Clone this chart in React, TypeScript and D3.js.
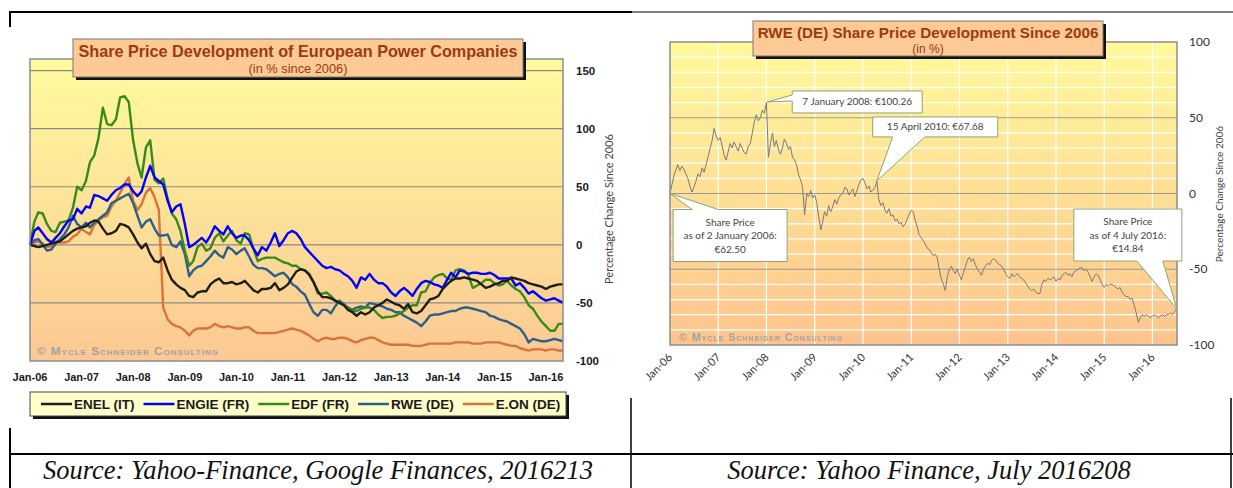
import * as d3 from 'd3';
import { useEffect, useRef } from 'react';

// ---- left chart: monthly % change since Jan 2006 (Jan-06 .. May-16) ----
const enel = [
  0, -1, -2, -1, 0, 1, 2, 3, 6, 9,
  12, 14, 15, 16, 19, 21, 20, 14, 9, 10,
  12, 18, 17, 15, 9, 2, -3, 1, -8, -14,
  -15, -11, -22, -30, -34, -37, -39, -44, -45, -41,
  -40, -40, -34, -31, -29, -33, -33, -32, -34, -33,
  -31, -35, -39, -41, -38, -38, -37, -33, -39, -37,
  -34, -28, -23, -21, -22, -26, -32, -40, -45, -45,
  -46, -48, -50, -52, -56, -58, -61, -58, -60, -58,
  -54, -52, -50, -47, -49, -51, -52, -55, -51, -58,
  -59, -57, -52, -47, -46, -44, -38, -34, -31, -29,
  -29, -28, -29, -30, -31, -34, -37, -36, -34, -33,
  -31, -31, -28, -29, -30, -31, -33, -34, -35, -36,
  -38, -36, -35, -34, -34,
];
const engie = [
  0, 12, 15, 10, 5, 2, 6, 10, 16, 21,
  22, 31, 27, 33, 32, 43, 42, 40, 38, 43,
  47, 49, 52, 52, 46, 42, 46, 58, 68, 58,
  55, 52, 38, 28, 33, 35, 18, -2, 0, 3,
  6, 2, 8, 16, 12, 9, 16, 10, 6, 8,
  8, 4, -3, -9, -2, -5, 2, 10, -1, 4,
  10, 12, 10, 5, -2, -6, -10, -14, -18, -20,
  -19, -21, -22, -25, -27, -31, -37, -28, -30, -25,
  -30, -33, -33, -36, -41, -44, -40, -37, -40, -44,
  -38, -33, -31, -32, -34, -35, -37, -30, -24, -28,
  -22, -23, -25, -24, -24, -25, -25, -24, -26, -29,
  -29, -29, -29, -35, -33, -37, -42, -40, -43, -46,
  -48, -47, -46, -48, -50,
];
const edf = [
  0, 20, 28, 27, 18, 12, 11, 19, 20, 21,
  32, 50, 47, 55, 71, 77, 92, 118, 104, 103,
  108, 127, 128, 123, 90, 70, 58, 84, 90, 56,
  53, 57, 40, 27, 22, 12, -5, -18, -14, -2,
  1, -5, -3, 6, 10, 3, 8, 12, 4, 1,
  10, 9, -3, -14, -12, -11, -11, -11, -13, -15,
  -16, -18, -18, -21, -22, -25, -32, -42, -42, -41,
  -44, -48, -50, -52, -54, -57, -57, -55, -54, -54,
  -56, -60, -63, -62, -62, -61, -59, -57, -54, -52,
  -52, -41, -40, -33, -28, -26, -25, -29, -30, -22,
  -21, -22, -26, -37, -35, -33, -30, -30, -33, -35,
  -34, -31, -35, -38, -40, -45, -52, -55, -61, -66,
  -70, -74, -74, -68, -68,
];
const rwe = [
  0, 4, 5, 0, -5, -4, 1, 5, 9, 15,
  25, 18, 15, 19, 15, 19, 22, 25, 28, 36,
  38, 40, 42, 44, 36, 25, 15, 20, 22, 14,
  8, 8, 9, 0, -2, 3, -8, -27, -22, -19,
  -18, -14, -10, -5, -9, -11, -2, -4, -8, -5,
  -3, -10, -17, -20, -20, -21, -24, -27, -25, -24,
  -28, -34, -36, -40, -43, -51, -58, -61, -56, -56,
  -59, -53, -48, -51, -54, -56, -54, -53, -54, -50,
  -51, -52, -53, -55, -56, -58, -58, -61, -63, -65,
  -67, -70, -66, -61, -60, -60, -59, -58, -57, -57,
  -55, -54, -54, -55, -56, -57, -58, -61, -62, -64,
  -65, -66, -68, -70, -72, -77, -84, -81, -82, -83,
  -83, -82, -81, -82, -83,
];
const eon = [
  0, 2, 3, 1, -2, -1, 3, 2, 2, 3,
  7, 9, 14, 11, 9, 17, 21, 24, 25, 33,
  38, 45, 52, 58, 38, 30, 35, 45, 49, 41,
  30, -54, -64, -68, -70, -71, -74, -78, -74, -72,
  -72, -72, -71, -68, -70, -71, -70, -71, -72, -72,
  -71, -71, -74, -76, -76, -76, -76, -76, -75, -74,
  -73, -72, -73, -74, -76, -78, -81, -83, -81, -80,
  -81, -81, -80, -80, -81, -83, -84, -82, -81, -80,
  -80, -82, -84, -85, -86, -86, -86, -86, -86, -87,
  -87, -87, -86, -85, -85, -85, -85, -85, -85, -84,
  -84, -84, -84, -85, -85, -85, -84, -84, -84, -84,
  -85, -86, -87, -87, -89, -90, -91, -90, -90, -90,
  -91, -90, -90, -91, -91,
];
const seriesNames = ['ENEL (IT)', 'ENGIE (FR)', 'EDF (FR)', 'RWE (DE)', 'E.ON (DE)'];
const seriesColors = ['#1e1e1e', '#0000ff', '#3a8a1a', '#2c5f8a', '#d8743a'];
const leftYTicks = [150, 100, 50, 0, -50, -100];
const leftGrid = [150, 100, 50, 0, -50];
const yearLabels = ['Jan-06', 'Jan-07', 'Jan-08', 'Jan-09', 'Jan-10', 'Jan-11', 'Jan-12', 'Jan-13', 'Jan-14', 'Jan-15', 'Jan-16'];

// ---- right chart: RWE twice a month (1st and 16th), % change since 2 Jan 2006 ----
const rweHalfMonth = [
  0, 6, 12, 16, 19, 15, 18, 16, 13, 10, 5, 1, 4, 8, 13, 11, 17, 14, 19, 24, 30, 35, 43, 38,
  35, 37, 31, 25, 22, 27, 33, 30, 34, 31, 28, 33, 30, 27, 26, 31, 33, 40, 47, 52, 48, 50, 55, 53,
  60, 24, 33, 40, 31, 35, 29, 26, 30, 36, 33, 29, 31, 24, 22, 19, 12, 9, 4, -14, 0, -2, 2, -3,
  -1, -6, -16, -24, -19, -12, -15, -8, -12, -9, -4, -7, -3, -1, 0, 4, 3, -1, 1, 3, -2, 2, 6, 9,
  10, 7, 3, 5, 1, 2, 4, 8, -4, -8, -6, -11, -13, -10, -15, -14, -18, -17, -20, -19, -22, -20, -17, -14,
  -11, -12, -18, -22, -27, -29, -31, -33, -36, -37, -39, -41, -40, -42, -50, -56, -60, -64, -55, -50, -48, -51, -53, -50,
  -54, -57, -52, -48, -44, -42, -45, -43, -47, -50, -52, -54, -50, -48, -46, -47, -44, -43, -44, -46, -47, -48, -50, -53,
  -55, -56, -53, -55, -54, -53, -55, -56, -57, -59, -61, -63, -64, -63, -65, -66, -66, -60, -57, -58, -56, -57, -56, -55,
  -58, -56, -57, -54, -53, -52, -54, -53, -55, -52, -51, -50, -49, -49, -51, -50, -52, -55, -58, -55, -53, -54, -57, -60,
  -62, -60, -61, -60, -60, -61, -62, -63, -62, -65, -67, -68, -68, -70, -69, -74, -79, -85, -82, -80, -81, -80, -81, -82,
  -81, -80, -81, -82, -81, -80, -81, -80, -80, -79, -80, -78, -76,
];
const rightYTicks = [100, 50, 0, -50, -100];
const rightMajor = [50, 0, -50];
const calloutDates = [new Date(2008, 0, 7), new Date(2010, 3, 15), new Date(2006, 0, 2), new Date(2016, 6, 4)];
const calloutPrices = [100.26, 67.68, 62.5, 14.84];
const calloutText = [
  ['7 January 2008: €100.26'],
  ['15 April 2010: €67.68'],
  ['Share Price', 'as of 2 January 2006:', '€62.50'],
  ['Share Price', 'as of 4 July 2016:', '€14.84'],
];
const basePrice = 62.5;

const ARIAL = '"Liberation Sans", Arial, sans-serif';
const CALIBRI = 'Lato, "Open Sans", sans-serif';
const SERIF = '"Liberation Serif", "Times New Roman", serif';
const TITLE_RED = '#9c3a10';

function App() {
  const ref = useRef<SVGSVGElement>(null);

  useEffect(() => {
    const svg = d3.select(ref.current);
    svg.selectAll('*').remove();

    const defs = svg.append('defs');
    const grad = (id: string, top: string, bottom: string) => {
      const g = defs.append('linearGradient').attr('id', id).attr('x1', 0).attr('y1', 0).attr('x2', 0).attr('y2', 1);
      g.append('stop').attr('offset', '0%').attr('stop-color', top);
      g.append('stop').attr('offset', '100%').attr('stop-color', bottom);
    };
    grad('bgLeft', '#fffb9e', '#fcc893');
    grad('bgRight', '#fffa9c', '#fdc48d');

    // ---------- LEFT CHART ----------
    const months = d3.range(enel.length).map(i => new Date(2006, i, 1));
    const lx = d3.scaleTime().domain([new Date(2006, 0, 1), new Date(2016, 4, 1)]).range([30, 563]);
    const ly = d3.scaleLinear().domain([-100, 160]).range([361, 59]);
    const left = svg.append('g');

    left.append('rect')
      .attr('x', 30).attr('y', 59).attr('width', 533).attr('height', 302)
      .attr('fill', 'url(#bgLeft)');

    left.selectAll('.lgrid').data(leftGrid).join('line')
      .attr('x1', 30).attr('x2', 563)
      .attr('y1', d => ly(d)).attr('y2', d => ly(d))
      .attr('stroke', '#8a8a8a').attr('stroke-width', 1.2);

    left.append('text')
      .attr('x', 37).attr('y', 355)
      .attr('font-family', ARIAL).attr('font-weight', 'bold').attr('font-size', 11.7)
      .attr('font-variant', 'small-caps').attr('letter-spacing', 1)
      .attr('fill', '#a3a3a3')
      .text('© Mycle Schneider Consulting');

    const allSeries = [enel, engie, edf, rwe, eon];
    const drawOrder = [4, 3, 2, 1, 0];
    const line = d3.line<number>()
      .x((_, i) => lx(months[i]))
      .y(d => ly(d));
    drawOrder.forEach(k => {
      left.append('path')
        .attr('d', line(allSeries[k]))
        .attr('fill', 'none')
        .attr('stroke', seriesColors[k])
        .attr('stroke-width', 2.4)
        .attr('stroke-linejoin', 'round');
    });

    left.append('rect')
      .attr('x', 30).attr('y', 59).attr('width', 533).attr('height', 302)
      .attr('fill', 'none').attr('stroke', '#8c8c8c').attr('stroke-width', 1.5);

    left.selectAll('.ly').data(leftYTicks).join('text')
      .attr('x', 576).attr('y', d => ly(d) + 4)
      .attr('font-family', ARIAL).attr('font-weight', 'bold').attr('font-size', 11.5)
      .attr('fill', '#1a1a1a')
      .text(d => String(d));

    left.append('text')
      .attr('transform', 'translate(613,209) rotate(-90)')
      .attr('text-anchor', 'middle')
      .attr('font-family', CALIBRI).attr('font-size', 11)
      .attr('fill', '#444')
      .text('Percentage Change Since 2006');

    left.selectAll('.lx').data(yearLabels).join('text')
      .attr('x', (_, i) => lx(new Date(2006 + i, 0, 1)))
      .attr('y', 381)
      .attr('text-anchor', 'middle')
      .attr('font-family', ARIAL).attr('font-weight', 'bold').attr('font-size', 11)
      .attr('fill', '#1a1a1a')
      .text(d => d);

    // title box
    left.append('rect').attr('x', 76).attr('y', 42).attr('width', 450).attr('height', 38).attr('fill', '#111');
    left.append('rect').attr('x', 73).attr('y', 39).attr('width', 450).attr('height', 38)
      .attr('fill', '#fdc995').attr('stroke', '#7a7a7a').attr('stroke-width', 1);
    left.append('text').attr('x', 298).attr('y', 57).attr('text-anchor', 'middle')
      .attr('font-family', ARIAL).attr('font-weight', 'bold').attr('font-size', 16.2)
      .attr('fill', TITLE_RED)
      .text('Share Price Development of European Power Companies');
    left.append('text').attr('x', 298).attr('y', 72.5).attr('text-anchor', 'middle')
      .attr('font-family', ARIAL).attr('font-size', 12.8)
      .attr('fill', TITLE_RED)
      .text('(in % since 2006)');

    // legend
    left.append('rect').attr('x', 33).attr('y', 395).attr('width', 536).attr('height', 24).attr('fill', '#111');
    left.append('rect').attr('x', 30).attr('y', 392).attr('width', 536).attr('height', 24)
      .attr('fill', '#ffffcc').attr('stroke', '#444').attr('stroke-width', 1);
    let lxPos = 41;
    seriesNames.forEach((name, k) => {
      left.append('line')
        .attr('x1', lxPos).attr('x2', lxPos + 31).attr('y1', 404).attr('y2', 404)
        .attr('stroke', seriesColors[k]).attr('stroke-width', 2.5);
      const t = left.append('text')
        .attr('x', lxPos + 33).attr('y', 409)
        .attr('font-family', ARIAL).attr('font-weight', 'bold').attr('font-size', 13.5)
        .attr('fill', '#1a1a1a')
        .text(name);
      const w = (t.node() as SVGTextElement).getComputedTextLength();
      lxPos += 33 + w + 9;
    });

    // ---------- RIGHT CHART ----------
    const halfDates = d3.range(rweHalfMonth.length).map(h => new Date(2006 + Math.floor(h / 24), Math.floor((h % 24) / 2), h % 2 ? 16 : 1));
    const rx = d3.scaleTime().domain([new Date(2006, 0, 1), new Date(2016, 6, 5)]).range([670, 1177]);
    const ry = d3.scaleLinear().domain([-100, 100]).range([345, 42]);
    const right = svg.append('g');

    right.append('rect')
      .attr('x', 670).attr('y', 42).attr('width', 507).attr('height', 303)
      .attr('fill', 'url(#bgRight)');

    right.selectAll('.rminor').data(ry.ticks(20).filter(v => v % 50 !== 0)).join('line')
      .attr('x1', 670).attr('x2', 1177)
      .attr('y1', d => ry(d)).attr('y2', d => ry(d))
      .attr('stroke', '#ffffff').attr('stroke-width', 1.2);

    const yearTicks = d3.range(11).map(i => new Date(2006 + i, 0, 1));
    right.selectAll('.rvert').data(yearTicks.slice(1)).join('line')
      .attr('x1', d => rx(d)).attr('x2', d => rx(d))
      .attr('y1', 42).attr('y2', 345)
      .attr('stroke', '#ffffff').attr('stroke-width', 1.2);

    right.selectAll('.rmajor').data(rightMajor).join('line')
      .attr('x1', 670).attr('x2', 1177)
      .attr('y1', d => ry(d)).attr('y2', d => ry(d))
      .attr('stroke', '#9a9a9a').attr('stroke-width', 1.2);

    right.append('text')
      .attr('x', 679).attr('y', 341)
      .attr('font-family', ARIAL).attr('font-weight', 'bold').attr('font-size', 10.6)
      .attr('font-variant', 'small-caps').attr('letter-spacing', 1)
      .attr('fill', '#a3a3a3')
      .text('© Mycle Schneider Consulting');

    const rline = d3.line<number>()
      .x((_, i) => rx(halfDates[i]))
      .y(d => ry(d));
    right.append('path')
      .attr('d', rline(rweHalfMonth))
      .attr('fill', 'none')
      .attr('stroke', '#7a7a7a')
      .attr('stroke-width', 1);

    right.append('rect')
      .attr('x', 670).attr('y', 42).attr('width', 507).attr('height', 303)
      .attr('fill', 'none').attr('stroke', '#8c8c8c').attr('stroke-width', 1.5);

    right.selectAll('.ry').data(rightYTicks).join('text')
      .attr('x', 1189).attr('y', d => ry(d) + 4)
      .attr('font-family', CALIBRI).attr('font-size', 12)
      .attr('fill', '#333')
      .text(d => String(d));

    right.append('text')
      .attr('transform', 'translate(1223,194) rotate(-90)')
      .attr('text-anchor', 'middle')
      .attr('font-family', CALIBRI).attr('font-size', 10)
      .attr('fill', '#444')
      .text('Percentage Change Since 2006');

    right.selectAll('.rx').data(yearLabels).join('text')
      .attr('transform', (_, i) => `translate(${rx(yearTicks[i]) + 3},358) rotate(-45)`)
      .attr('text-anchor', 'end')
      .attr('font-family', CALIBRI).attr('font-size', 11)
      .attr('fill', '#333')
      .text(d => d);

    // callouts
    const layout = [
      { dx: 25, dy: -11, w: 130, h: 22, side: 'left', b0: 4, b1: 10 },
      { dx: -4, dy: -64, w: 125, h: 20, side: 'bottom', b0: 20, b1: 52 },
      { dx: 3, dy: 16, w: 114, h: 52, side: 'top', b0: 19, b1: 45 },
      { dx: -103, dy: -100, w: 108, h: 52, side: 'bottom', b0: 63, b1: 89 },
    ];
    calloutDates.forEach((date, k) => {
      const tx = rx(date);
      const ty = ry((calloutPrices[k] / basePrice - 1) * 100);
      const L = layout[k];
      const bx = tx + L.dx;
      const by = ty + L.dy;
      let p = '';
      if (L.side === 'left') {
        p = `M${bx},${by}H${bx + L.w}V${by + L.h}H${bx}V${by + L.b1}L${tx},${ty}L${bx},${by + L.b0}Z`;
      } else if (L.side === 'bottom') {
        p = `M${bx},${by}H${bx + L.w}V${by + L.h}H${bx + L.b1}L${tx},${ty}L${bx + L.b0},${by + L.h}H${bx}Z`;
      } else {
        p = `M${bx},${by}H${bx + L.b0}L${tx},${ty}L${bx + L.b1},${by}H${bx + L.w}V${by + L.h}H${bx}Z`;
      }
      right.append('path').attr('d', p)
        .attr('fill', '#ffffff').attr('stroke', '#8ea374').attr('stroke-width', 1);
      const lines = calloutText[k];
      const lh = 13.5;
      const startY = by + L.h / 2 - ((lines.length - 1) * lh) / 2 + 3.5;
      lines.forEach((s, j) => {
        right.append('text')
          .attr('x', bx + L.w / 2).attr('y', startY + j * lh)
          .attr('text-anchor', 'middle')
          .attr('font-family', CALIBRI).attr('font-size', 10)
          .attr('fill', '#444')
          .text(s);
      });
    });

    // title box
    right.append('rect').attr('x', 756).attr('y', 24).attr('width', 350).attr('height', 35).attr('fill', '#111');
    right.append('rect').attr('x', 753).attr('y', 21).attr('width', 350).attr('height', 35)
      .attr('fill', '#fdc995').attr('stroke', '#7a7a7a').attr('stroke-width', 1);
    right.append('text').attr('x', 928).attr('y', 38).attr('text-anchor', 'middle')
      .attr('font-family', ARIAL).attr('font-weight', 'bold').attr('font-size', 15.2)
      .attr('fill', TITLE_RED)
      .text('RWE (DE) Share Price Development Since 2006');
    right.append('text').attr('x', 928).attr('y', 52.5).attr('text-anchor', 'middle')
      .attr('font-family', ARIAL).attr('font-size', 12)
      .attr('fill', TITLE_RED)
      .text('(in %)');

    // ---------- TABLE FRAME ----------
    const frame = svg.append('g').attr('stroke', '#000');
    frame.append('line').attr('x1', 9).attr('x2', 632).attr('y1', 12).attr('y2', 12).attr('stroke-width', 2);
    frame.append('line').attr('x1', 632).attr('x2', 1233).attr('y1', 12).attr('y2', 12).attr('stroke-width', 1.2);
    frame.append('line').attr('x1', 10).attr('x2', 10).attr('y1', 11).attr('y2', 27).attr('stroke-width', 2);
    frame.append('line').attr('x1', 10).attr('x2', 10).attr('y1', 428).attr('y2', 488).attr('stroke-width', 2);
    frame.append('line').attr('x1', 631).attr('x2', 631).attr('y1', 398).attr('y2', 488).attr('stroke-width', 1.5);
    frame.append('line').attr('x1', 1231).attr('x2', 1231).attr('y1', 398).attr('y2', 488).attr('stroke-width', 1.5);
    frame.append('line').attr('x1', 9).attr('x2', 1233).attr('y1', 454).attr('y2', 454).attr('stroke-width', 2);

    svg.append('text').attr('x', 318).attr('y', 479).attr('text-anchor', 'middle')
      .attr('font-family', SERIF)
      .attr('font-style', 'italic').attr('font-size', 26.5)
      .attr('fill', '#111')
      .text('Source: Yahoo-Finance, Google Finances, 2016213');
    svg.append('text').attr('x', 929).attr('y', 479).attr('text-anchor', 'middle')
      .attr('font-family', SERIF)
      .attr('font-style', 'italic').attr('font-size', 26.5)
      .attr('fill', '#111')
      .text('Source: Yahoo Finance, July 2016208');
  }, []);

  return (
    <svg
      ref={ref}
      width={1233}
      height={488}
      style={{ position: 'absolute', left: 0, top: 0, background: '#fff' }}
    />
  );
}

export default App;
